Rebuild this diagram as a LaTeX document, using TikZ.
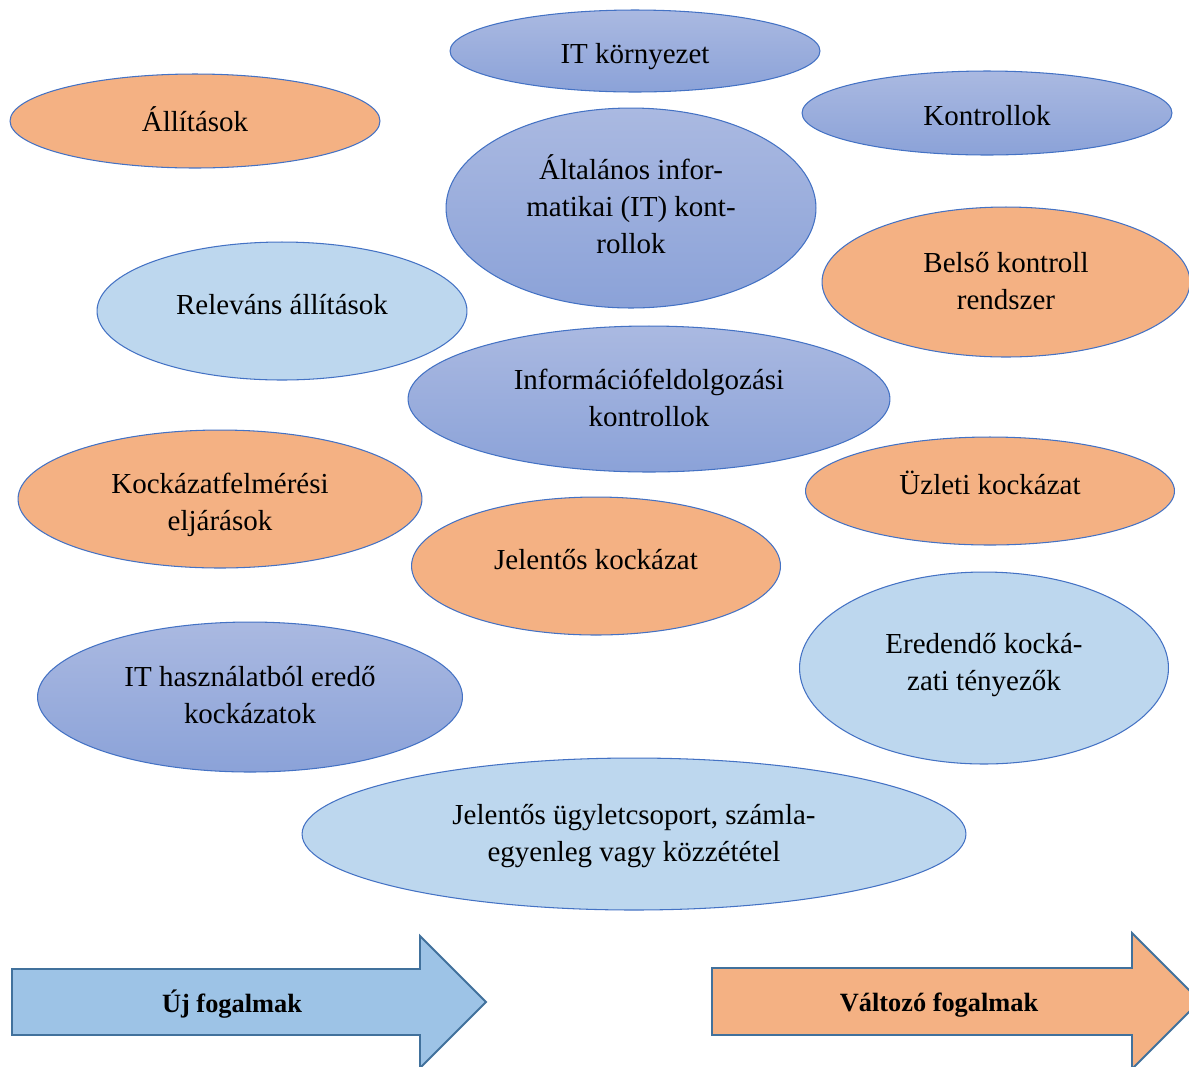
\documentclass[tikz,border=0pt]{standalone}
\usepackage{fontspec}
\setmainfont{Liberation Serif}
\usetikzlibrary{shapes.geometric}
\definecolor{edgeblue}{HTML}{4472C4}
\definecolor{orangefill}{HTML}{F4B183}
\definecolor{lightfill}{HTML}{BDD7EE}
\definecolor{gradtop}{HTML}{AAB9E1}
\definecolor{gradbot}{HTML}{8BA2D8}
\definecolor{arrowblue}{HTML}{9DC3E6}
\definecolor{arrowedge}{HTML}{41719C}
\tikzset{
  concept/.style={ellipse, draw=edgeblue, line width=0.6pt, inner sep=0pt},
  orangeconcept/.style={concept, fill=orangefill},
  lightconcept/.style={concept, fill=lightfill},
  blueconcept/.style={concept, top color=gradtop, bottom color=gradbot},
  concepttext/.style={align=center, inner sep=0pt, font=\fontsize{16.5}{21}\selectfont},
  bigarrow/.style={draw=arrowedge, line width=1.1pt, line join=miter},
  arrowtext/.style={font=\fontsize{15}{18}\selectfont\bfseries}
}
\begin{document}
\begin{tikzpicture}[x=0.02cm, y=-0.02cm]
\useasboundingbox (0,0) rectangle (1189,1066);
\clip (0,0) rectangle (1189,1066);

% concept ellipses
\node[blueconcept, minimum width=7.4cm, minimum height=1.64cm] (itenv) at (635,51) {};
\node[orangeconcept, minimum width=7.4cm, minimum height=1.88cm] (assert) at (195,121) {};
\node[blueconcept, minimum width=7.4cm, minimum height=1.68cm] (controls) at (987,113) {};
\node[blueconcept, minimum width=7.4cm, minimum height=4.0cm] (gitc) at (631,208) {};
\node[orangeconcept, minimum width=7.36cm, minimum height=3.0cm] (ics) at (1006,282) {};
\node[lightconcept, minimum width=7.4cm, minimum height=2.76cm] (relassert) at (282,311) {};
\node[blueconcept, minimum width=9.64cm, minimum height=2.92cm] (ipc) at (649,399) {};
\node[orangeconcept, minimum width=8.08cm, minimum height=2.76cm] (rap) at (220,499) {};
\node[orangeconcept, minimum width=7.38cm, minimum height=2.16cm] (busrisk) at (990,491) {};
\node[orangeconcept, minimum width=7.38cm, minimum height=2.76cm] (sigrisk) at (596,566) {};
\node[lightconcept, minimum width=7.38cm, minimum height=3.84cm] (inherent) at (984,668) {};
\node[blueconcept, minimum width=8.5cm, minimum height=3.0cm] (itrisk) at (250,697) {};
\node[lightconcept, minimum width=13.28cm, minimum height=3.04cm] (sigclass) at (634,834) {};

% concept labels
\node[concepttext] (itenvtext) at (635,57) {IT környezet};
\node[concepttext] (asserttext) at (195,119) {Állítások};
\node[concepttext] (controlstext) at (987,116) {Kontrollok};
\node[concepttext] (gitctext) at (631,204) {Általános infor-\\matikai (IT) kont-\\rollok};
\node[concepttext] (icstext) at (1006,281) {Belső kontroll\\rendszer};
\node[concepttext] (relasserttext) at (282,305) {Releváns állítások};
\node[concepttext] (ipctext) at (649,398) {Információfeldolgozási\\kontrollok};
\node[concepttext] (raptext) at (220,505) {Kockázatfelmérési\\eljárások};
\node[concepttext] (busrisktext) at (990,483) {Üzleti kockázat};
\node[concepttext] (sigrisktext) at (596,560) {Jelentős kockázat};
\node[concepttext] (inherenttext) at (984,665) {Eredendő kocká-\\zati tényezők};
\node[concepttext] (itrisktext) at (250,695) {IT használatból eredő\\kockázatok};
\node[concepttext] (sigclasstext) at (634,836) {Jelentős ügyletcsoport, számla-\\egyenleg vagy közzététel};

% block arrows
\draw[bigarrow, fill=arrowblue] (12,969) -- (420,969) -- (420,936) -- (486,1002)
  -- (420,1068) -- (420,1035) -- (12,1035) -- cycle;
\node[arrowtext] (newterms) at (232,1004) {Új fogalmak};
\draw[bigarrow, fill=orangefill] (712,968) -- (1132,968) -- (1132,933) -- (1200,1001)
  -- (1132,1069) -- (1132,1035) -- (712,1035) -- cycle;
\node[arrowtext] (changedterms) at (939,1005) {Változó fogalmak};
\end{tikzpicture}
\end{document}
